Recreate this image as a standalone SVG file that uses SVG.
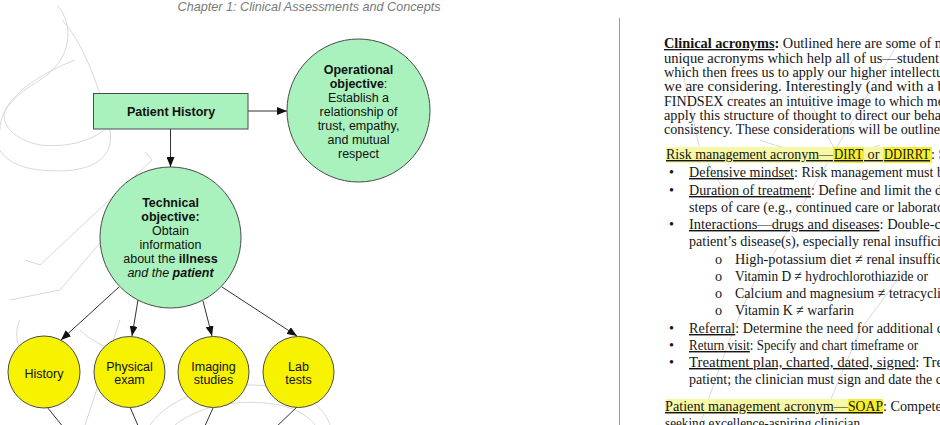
<svg xmlns="http://www.w3.org/2000/svg" width="940" height="425" viewBox="0 0 940 425">
<defs>
<style>
.wm{fill:none;stroke:#d4d4d4;stroke-width:0.9}
.node{stroke:#4a4a4a;stroke-width:1}
.green{fill:#aaf2bd}
.yellow{fill:#f7f200}
.lbl{font-family:"Liberation Sans",Arial,sans-serif;font-size:12.5px;fill:#111;text-anchor:middle}
.b{font-weight:bold}
.i{font-style:italic}
.conn{stroke:#333;stroke-width:1;fill:none}
.body{font-family:"Liberation Serif","Times New Roman",serif;font-size:14.2px;fill:#151515}
.p1{font-size:13.6px}
.u{text-decoration:underline}
.hl{fill:#f6f8a6}
.hb{fill:#f5ee30}
</style>
<marker id="arr" markerWidth="10" markerHeight="8" refX="10" refY="4" orient="auto" markerUnits="userSpaceOnUse">
<path d="M0,0 L10,4 L0,8 z" fill="#111"/>
</marker>
</defs>
<rect width="940" height="425" fill="#fff"/>
<g id="watermark">
<path class="wm" d="M57,5 C75,25 72,60 40,80 C15,95 0,110 0,130"/>
<path class="wm" d="M62,20 C85,45 100,90 110,130 C115,160 90,175 40,170 C20,168 5,160 0,150"/>
<path class="wm" d="M75,60 C50,70 20,85 5,110 C0,125 15,140 40,145 C70,148 95,140 110,125"/>
<path class="wm" d="M145,152 L152,160 L40,265 L25,260"/>
<path class="wm" d="M160,172 L60,290 L10,300"/>
<path class="wm" d="M20,320 C15,330 15,345 25,355 L20,362"/>
<path class="wm" d="M120,320 L85,425"/>
<path class="wm" d="M150,425 C170,395 230,375 290,390 C310,397 325,410 330,425"/>
<path class="wm" d="M175,425 C200,405 240,398 280,405 C300,410 310,418 315,425"/>
<path class="wm" d="M80,330 C90,340 115,355 130,352"/>
<path class="wm" d="M700,425 C715,380 735,320 760,270"/>
<path class="wm" d="M820,425 L860,330 L905,270"/>
<path class="wm" d="M780,45 L835,150 L770,260"/>
<path class="wm" d="M835,150 L900,40"/>
<path class="wm" d="M760,140 C800,155 840,160 880,145"/>
<path class="wm" d="M680,60 L700,150 L730,200"/>
</g>
<text class="lbl i" x="309" y="11" text-anchor="start" textLength="263" lengthAdjust="spacingAndGlyphs" style="fill:#7a7a7a;font-size:13px">Chapter 1: Clinical Assessments and Concepts</text>
<line x1="619.5" y1="18" x2="619.5" y2="425" stroke="#9a9a9a" stroke-width="1"/>
<g id="connectors">
<line class="conn" x1="248" y1="111" x2="287" y2="111" marker-end="url(#arr)"/>
<line class="conn" x1="170.5" y1="129" x2="170.5" y2="167" marker-end="url(#arr)"/>
<line class="conn" x1="119" y1="287" x2="61" y2="340" marker-end="url(#arr)"/>
<line class="conn" x1="138" y1="300" x2="132" y2="336" marker-end="url(#arr)"/>
<line class="conn" x1="203" y1="301" x2="212" y2="336" marker-end="url(#arr)"/>
<line class="conn" x1="222" y1="287" x2="297" y2="336" marker-end="url(#arr)"/>
<line class="conn" x1="47" y1="407" x2="64" y2="428"/>
<line class="conn" x1="130" y1="407" x2="139" y2="428"/>
<line class="conn" x1="213" y1="408" x2="204" y2="428"/>
<line class="conn" x1="297" y1="407" x2="275" y2="428"/>
</g>
<g id="patient-history">
<rect class="node green" x="93.5" y="93.5" width="154.5" height="35.5"/>
<text class="lbl b" x="171" y="116">Patient History</text>
</g>
<g id="operational-objective">
<circle class="node green" cx="358.5" cy="110.5" r="71.5"/>
<text class="lbl" x="358.5" y="73.5"><tspan class="b">Operational</tspan><tspan x="358.5" dy="14"><tspan class="b">objective</tspan>:</tspan><tspan x="358.5" dy="14">Establish a</tspan><tspan x="358.5" dy="14">relationship of</tspan><tspan x="358.5" dy="14">trust, empathy,</tspan><tspan x="358.5" dy="14">and mutual</tspan><tspan x="358.5" dy="14">respect</tspan></text>
</g>
<g id="technical-objective">
<circle class="node green" cx="170.5" cy="237.5" r="70.5"/>
<text class="lbl" x="170.5" y="206.5"><tspan class="b">Technical</tspan><tspan x="170.5" dy="14" class="b">objective:</tspan><tspan x="170.5" dy="14">Obtain</tspan><tspan x="170.5" dy="14">information</tspan><tspan x="170.5" dy="14">about the <tspan class="b">illness</tspan></tspan><tspan x="170.5" dy="14" class="i">and the <tspan class="b">patient</tspan></tspan></text>
</g>
<g id="history">
<circle class="node yellow" cx="44" cy="372" r="36"/>
<text class="lbl" x="44" y="377.5">History</text>
</g>
<g id="physical-exam">
<circle class="node yellow" cx="129.5" cy="372" r="35.5"/>
<text class="lbl" x="129.5" y="370.5">Physical<tspan x="129.5" dy="13">exam</tspan></text>
</g>
<g id="imaging-studies">
<circle class="node yellow" cx="213.5" cy="372" r="35.5"/>
<text class="lbl" x="213.5" y="371">Imaging<tspan x="213.5" dy="13">studies</tspan></text>
</g>
<g id="lab-tests">
<circle class="node yellow" cx="298.5" cy="372" r="35.5"/>
<text class="lbl" x="298.5" y="371">Lab<tspan x="298.5" dy="13">tests</tspan></text>
</g>
<g id="right-page">
<rect class="hl" x="666" y="147" width="167" height="16"/>
<rect class="hb" x="833" y="147" width="31" height="16"/>
<rect class="hl" x="864" y="147" width="19" height="16"/>
<rect class="hb" x="883" y="147" width="49" height="16"/>
<rect class="hl" x="665" y="399" width="183" height="15"/>
<rect class="hb" x="848" y="399" width="35" height="15"/>
<text class="body p1" x="664" y="48" textLength="282" lengthAdjust="spacingAndGlyphs"><tspan class="b u">Clinical acronyms</tspan><tspan class="b">:</tspan> Outlined here are some of m</text>
<text class="body p1" x="664" y="63" textLength="275" lengthAdjust="spacingAndGlyphs">unique acronyms which help all of us—student</text>
<text class="body p1" x="664" y="77" textLength="279" lengthAdjust="spacingAndGlyphs">which then frees us to apply our higher intellectu</text>
<text class="body p1" x="664" y="91" textLength="281" lengthAdjust="spacingAndGlyphs">we are considering. Interestingly (and with a b</text>
<text class="body p1" x="664" y="106" textLength="280" lengthAdjust="spacingAndGlyphs">FINDSEX creates an intuitive image to which me</text>
<text class="body p1" x="664" y="120" textLength="277" lengthAdjust="spacingAndGlyphs">apply this structure of thought to direct our beha</text>
<text class="body p1" x="664" y="134" textLength="276" lengthAdjust="spacingAndGlyphs">consistency. These considerations will be outline</text>
<text class="body" y="159"><tspan class="u" x="666" textLength="167" lengthAdjust="spacingAndGlyphs">Risk management acronym—</tspan><tspan class="u" x="834" textLength="29" lengthAdjust="spacingAndGlyphs">DIRT</tspan><tspan class="u" x="864"> or </tspan><tspan class="u" x="884" textLength="46" lengthAdjust="spacingAndGlyphs">DDIRRT</tspan><tspan x="931">: S</tspan></text>
<g class="body">
<text x="669" y="177">•</text>
<text x="669" y="195">•</text>
<text x="669" y="229">•</text>
<text x="669" y="333">•</text>
<text x="669" y="350">•</text>
<text x="669" y="367">•</text>
<text x="715" y="264">o</text>
<text x="715" y="281">o</text>
<text x="715" y="298">o</text>
<text x="715" y="315">o</text>
</g>
<text class="body" x="689" y="177" textLength="255" lengthAdjust="spacingAndGlyphs"><tspan class="u">Defensive mindset</tspan>: Risk management must b</text>
<text class="body" x="689" y="195" textLength="253" lengthAdjust="spacingAndGlyphs"><tspan class="u">Duration of treatment</tspan>: Define and limit the d</text>
<text class="body" x="689" y="212" textLength="255" lengthAdjust="spacingAndGlyphs">steps of care (e.g., continued care or laborato</text>
<text class="body" x="689" y="229" textLength="252" lengthAdjust="spacingAndGlyphs"><tspan class="u">Interactions—drugs and diseases</tspan>: Double-c</text>
<text class="body" x="689" y="246" textLength="252" lengthAdjust="spacingAndGlyphs">patient’s disease(s), especially renal insuffici</text>
<text class="body" x="735" y="264" textLength="207" lengthAdjust="spacingAndGlyphs">High-potassium diet ≠ renal insuffic</text>
<text class="body" x="735" y="281" textLength="193" lengthAdjust="spacingAndGlyphs">Vitamin D ≠ hydrochlorothiazide or</text>
<text class="body" x="735" y="298" textLength="206" lengthAdjust="spacingAndGlyphs">Calcium and magnesium ≠ tetracycli</text>
<text class="body" x="735" y="315" textLength="119" lengthAdjust="spacingAndGlyphs">Vitamin K ≠ warfarin</text>
<text class="body" x="689" y="333" textLength="254" lengthAdjust="spacingAndGlyphs"><tspan class="u">Referral</tspan>: Determine the need for additional c</text>
<text class="body" x="689" y="350" textLength="229" lengthAdjust="spacingAndGlyphs"><tspan class="u">Return visit</tspan>: Specify and chart timeframe or</text>
<text class="body" x="689" y="367" textLength="254" lengthAdjust="spacingAndGlyphs"><tspan class="u">Treatment plan, charted, dated, signed</tspan>: Tre</text>
<text class="body" x="689" y="384" textLength="253" lengthAdjust="spacingAndGlyphs">patient; the clinician must sign and date the c</text>
<text class="body" y="411"><tspan class="u" x="665" textLength="183" lengthAdjust="spacingAndGlyphs">Patient management acronym—</tspan><tspan class="u" x="848" textLength="35" lengthAdjust="spacingAndGlyphs">SOAP</tspan><tspan x="883">: Compete</tspan></text>
<text class="body" x="665" y="428" textLength="195" lengthAdjust="spacingAndGlyphs">seeking excellence-aspiring clinician</text>
</g>
</svg>
